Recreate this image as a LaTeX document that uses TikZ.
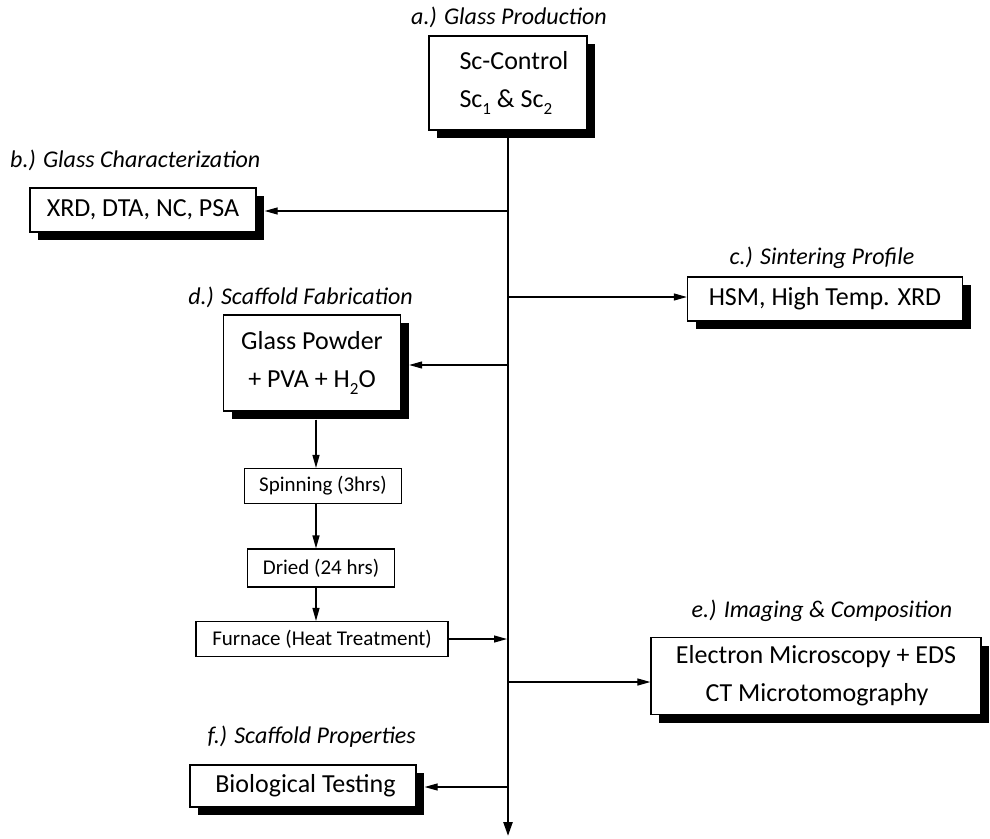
\documentclass[tikz,border=0pt]{standalone}
\usepackage{fontspec}
\setmainfont{Carlito}
\usetikzlibrary{arrows.meta,shadows,calc}
\newcommand{\subx}[1]{\raisebox{-0.6ex}{\fontsize{17}{17}\selectfont #1}}
\begin{document}
\begin{tikzpicture}[x=1pt,y=-1pt,
  bigbox/.style={draw, line width=1.3pt, fill=white, inner sep=0pt, align=center,
    font=\fontsize{26}{38}\selectfont,
    drop shadow={shadow xshift=8pt, shadow yshift=-8pt, fill=black, opacity=1}},
  smallbox/.style={draw, line width=1.2pt, fill=white, inner sep=0pt, align=center,
    font=\fontsize{21}{24}\selectfont},
  lab/.style={inner sep=0pt, font=\fontsize{24}{26}\selectfont\itshape},
  mainline/.style={line width=2.4pt, -{Triangle[length=14pt,width=9pt]}},
  branch/.style={line width=1.2pt, -{Triangle[length=13pt,width=7pt]}}
]
\useasboundingbox (0,0) rectangle (990,838);

% labels
\node[lab] (la) at (509,17) {a.) Glass Production};
\node[lab, anchor=west] (lb) at (10,160) {b.) Glass Characterization};
\node[lab] (lc) at (822,258) {c.) Sintering Profile};
\node[lab, anchor=east] (ld) at (413,297) {d.) Scaffold Fabrication};
\node[lab] (le) at (822,611) {e.) Imaging \& Composition};
\node[lab, anchor=east] (lf) at (416,737) {f.) Scaffold Properties};

% boxes
\node[bigbox, align=left, minimum width=158pt, minimum height=94pt] (a) at (508,83)
  {\hspace*{12pt}Sc-Control\\ \hspace*{12pt}Sc\subx{1} \& Sc\subx{2}};
\node[bigbox, minimum width=226pt, minimum height=44pt] (b) at (143,210)
  {XRD, DTA, NC, PSA};
\node[bigbox, minimum width=275pt, minimum height=44pt] (c) at (825,299)
  {HSM, High Temp. XRD};
\node[bigbox, minimum width=177pt, minimum height=96pt] (d) at (312,363)
  {Glass Powder\\ + PVA + H\subx{2}O};
\node[smallbox, minimum width=157pt, minimum height=35pt] (s) at (323,486)
  {Spinning (3hrs)};
\node[smallbox, minimum width=147pt, minimum height=38pt] (dr) at (321,568)
  {Dried (24 hrs)};
\node[smallbox, minimum width=252pt, minimum height=35pt] (fu) at (322,639)
  {Furnace (Heat Treatment)};
\node[bigbox, minimum width=330pt, minimum height=77pt] (e) at (816,676)
  {Electron Microscopy + EDS\\ \hspace*{2pt}CT Microtomography};
\node[bigbox, minimum width=226pt, minimum height=42pt] (f) at (303,786)
  {\hspace*{5pt}Biological Testing};

% main line
\coordinate (mtop) at (a.south);
\coordinate (mend) at (508,836);
\draw[mainline] (mtop) -- (mend);

% branches
\coordinate (jb) at (508,211);
\coordinate (jc) at (508,297);
\coordinate (jd) at (508,365);
\coordinate (jfu) at (507,639);
\coordinate (je) at (508,682);
\coordinate (jf) at (508,787);
\draw[branch] (jb) -- ($(b.east)+(8,1)$);
\draw[branch] (jc) -- (c.west |- jc);
\draw[branch] (jd) -- ($(d.east |- jd)+(8,0)$);
\draw[branch] (fu.east) -- (jfu);
\draw[branch] (je) -- (e.west |- je);
\draw[branch] (jf) -- ($(f.east |- jf)+(8,0)$);

% vertical chain
\draw[branch] ($(d.south)+(4,8)$) -- (s.north -| 316,0);
\draw[branch] (s.south -| 316,0) -- (dr.north -| 316,0);
\draw[branch] (dr.south -| 316,0) -- (fu.north -| 316,0);
\end{tikzpicture}
\end{document}
